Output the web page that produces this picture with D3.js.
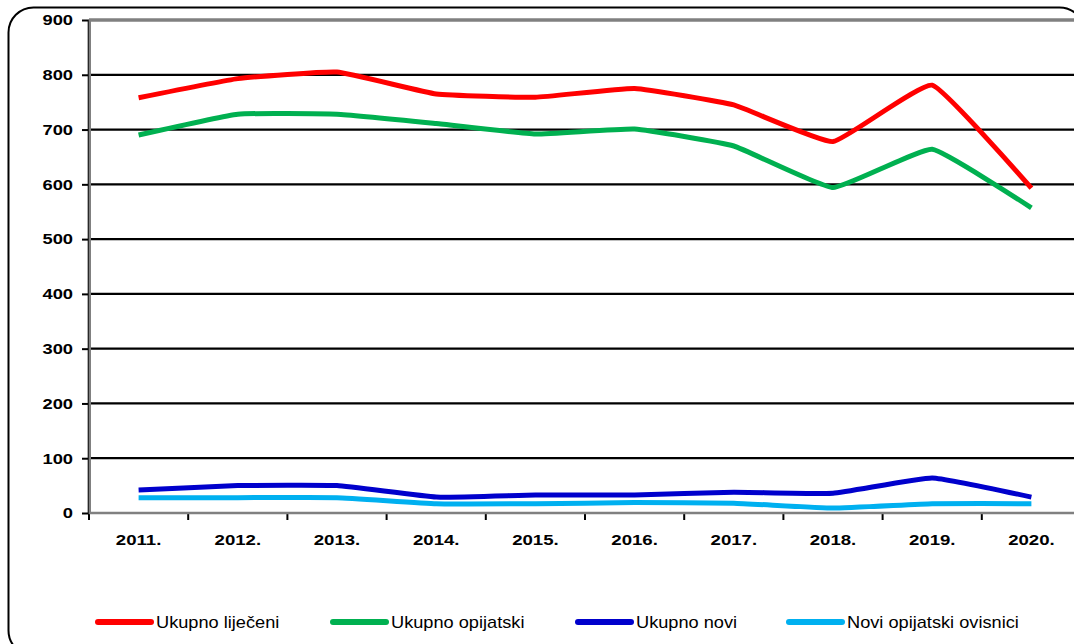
<!DOCTYPE html>
<html><head><meta charset="utf-8">
<script src="https://cdn.jsdelivr.net/npm/d3@7"></script>
<style>
html,body{margin:0;padding:0;background:#fff;overflow:hidden;}
svg{display:block;}
</style></head>
<body>
<svg id="chart" width="1074" height="644"></svg>
<script>
const years = ["2011.","2012.","2013.","2014.","2015.","2016.","2017.","2018.","2019.","2020."];
const yTicks = [0,100,200,300,400,500,600,700,800,900];
const seriesNames = ["Ukupno liječeni","Ukupno opijatski","Ukupno novi","Novi opijatski ovisnici"];
const seriesColors = ["#ff0000","#00b050","#0000cc","#00b0f0"];
const ukupnoLijeceni = [758,793,805,765,759,775,745,678,781,593];
const ukupnoOpijatski = [690,728,728,711,692,701,670,594,664,557];
const ukupnoNovi = [42,50,50,29,33,33,38,36,64,29];
const noviOpijatski = [28,28,28,17,17,19,18,9,17,17];
const seriesValues = [ukupnoLijeceni, ukupnoOpijatski, ukupnoNovi, noviOpijatski];

(function(){
const svg = d3.select("#chart");
const pLeft = 89, pRight = 1081, pTop = 20, pBottom = 513;

// outer rounded frame
svg.append("rect").attr("x",8.5).attr("y",7.5).attr("width",1076).attr("height",648)
  .attr("rx",25).attr("ry",25).attr("fill","none").attr("stroke","#000").attr("stroke-width",2);

const x = d3.scaleBand().domain(years).range([pLeft,pRight]);
const y = d3.scaleLinear().domain([0,900]).range([pBottom,pTop]);

// gridlines
svg.append("g").selectAll("line").data(yTicks.filter(d=>d>0)).join("line")
  .attr("x1",pLeft).attr("x2",1074).attr("y1",d=>y(d)).attr("y2",d=>y(d))
  .attr("stroke",d=>d===900?"#808080":"#000").attr("stroke-width",d=>d===900?3.5:2.2);

function stretch(sel, f){
  sel.each(function(){
    const len = this.getComputedTextLength();
    d3.select(this).attr("textLength",len*f).attr("lengthAdjust","spacingAndGlyphs");
  });
}

// y axis
const yAxis = svg.append("g").attr("transform",`translate(${pLeft},0)`)
  .call(d3.axisLeft(y).tickValues(yTicks).tickSize(7).tickPadding(9).tickSizeOuter(0));
yAxis.select(".domain").remove();
yAxis.selectAll(".tick line").attr("stroke","#000").attr("stroke-width",2);
yAxis.selectAll(".tick text").attr("font-family","Liberation Sans, Arial, sans-serif")
  .attr("font-weight","bold").attr("font-size",15).attr("fill","#000");
stretch(yAxis.selectAll(".tick text"),1.22);

// x axis
const xAxis = svg.append("g").attr("transform",`translate(0,${pBottom})`)
  .call(d3.axisBottom(x).tickSize(0).tickPadding(21));
xAxis.select(".domain").remove();
xAxis.selectAll(".tick text").attr("font-family","Liberation Sans, Arial, sans-serif")
  .attr("font-weight","bold").attr("font-size",15).attr("fill","#000");
stretch(xAxis.selectAll(".tick text"),1.24);
// category boundary ticks
svg.append("g").selectAll("line").data(years).join("line")
  .attr("x1",d=>x(d)).attr("x2",d=>x(d)).attr("y1",pBottom).attr("y2",pBottom+7)
  .attr("stroke","#000").attr("stroke-width",2);

// axis lines
svg.append("line").attr("x1",pLeft).attr("x2",1074).attr("y1",pBottom).attr("y2",pBottom)
  .attr("stroke","#808080").attr("stroke-width",2.5);
svg.append("line").attr("x1",pLeft+0.5).attr("x2",pLeft+0.5).attr("y1",pTop).attr("y2",pBottom+1)
  .attr("stroke","#808080").attr("stroke-width",3);
svg.append("line").attr("x1",pLeft-0.8).attr("x2",pLeft-0.8).attr("y1",pTop).attr("y2",pBottom+1)
  .attr("stroke","#000").attr("stroke-width",1);

// series lines
const line = d3.line()
  .x((d,i)=>x(years[i])+x.bandwidth()/2)
  .y(d=>y(d))
  .curve(d3.curveCardinal.tension(0.65));
svg.append("g").selectAll("path").data(seriesValues).join("path")
  .attr("d",d=>line(d)).attr("fill","none")
  .attr("stroke",(d,i)=>seriesColors[i]).attr("stroke-width",5)
  .attr("stroke-linejoin","round").attr("stroke-linecap","butt");

// legend
const legendX = [98,333,578,789];
const leg = svg.append("g").selectAll("g").data(seriesNames).join("g")
  .attr("transform",(d,i)=>`translate(${legendX[i]},622)`);
leg.append("line").attr("x1",0).attr("x2",53).attr("y1",0).attr("y2",0)
  .attr("stroke",(d,i)=>seriesColors[i]).attr("stroke-width",6).attr("stroke-linecap","round");
const lt = leg.append("text").attr("x",58).attr("y",0).attr("dy","0.36em")
  .attr("font-family","Liberation Sans, Arial, sans-serif").attr("font-size",17)
  .attr("fill","#000").text(d=>d);
stretch(lt,1.07);
})();
</script>
</body></html>
